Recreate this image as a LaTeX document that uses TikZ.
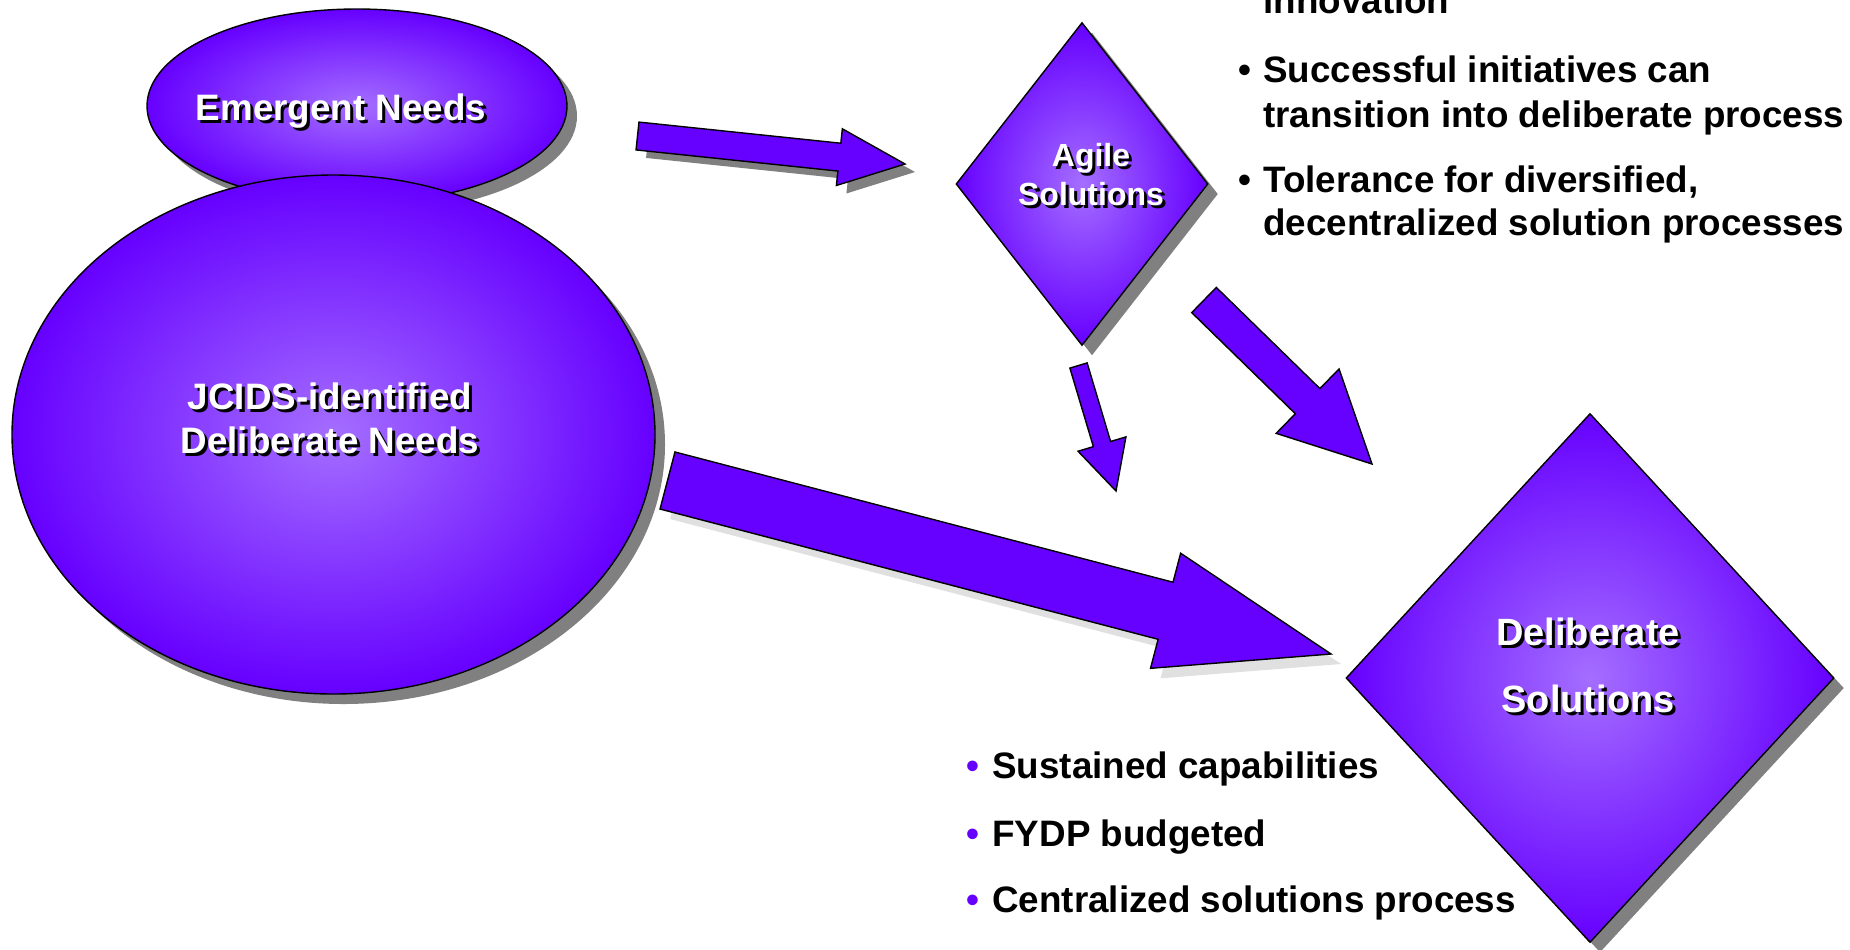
\documentclass[tikz,border=0pt]{standalone}
\usepackage{fontspec}
\setmainfont{Liberation Sans}
\usepackage{xcolor}
\usepackage{tikz}
\usetikzlibrary{positioning,shapes.geometric,shadows,calc}

\definecolor{solviolet}{HTML}{6600FF}
\definecolor{sollight}{HTML}{A46EFF}

\tikzset{
  needshape/.style={draw=black, line width=0.7pt, shading=radial, inner color=sollight,
    outer color=solviolet, inner sep=0pt,
    drop shadow={shadow xshift=5pt, shadow yshift=-5pt, fill=black!50, opacity=1}},
  needoval/.style={needshape, ellipse},
  soldiamond/.style={needshape, diamond},
  lbl/.style={font=\bfseries\fontsize{18.4}{22}\selectfont, text=white, anchor=base, inner sep=0pt},
  lblback/.style={lbl, text=black},
  itemtext/.style={font=\bfseries\fontsize{18.4}{22}\selectfont, anchor=base west, inner sep=0pt},
  itembullet/.style={font=\bfseries\fontsize{18.4}{22}\selectfont, anchor=base, inner sep=0pt},
  arrowbody/.style={fill=solviolet, draw=black, line width=0.7pt}
}

% white label with a black shadow behind it
\newcommand{\shadowtext}[4][]{%
  \node[lblback,#1] (#2s) at ($(#3)+(3,3)$) {#4};
  \node[lbl,#1] (#2) at (#3) {#4};}

% block arrow: from, to, half shaft, half head, head length
\newcommand{\blockarrow}[6][]{%
  \coordinate (#2n) at ($(#3)!#6!(#2)$);
  \filldraw[arrowbody,#1] ($(#2)!#4!90:(#3)$) -- ($(#2n)!#4!90:(#3)$) -- ($(#2n)!#5!90:(#3)$)
    -- (#3) -- ($(#2n)!#5!-90:(#3)$) -- ($(#2n)!#4!-90:(#3)$) -- ($(#2)!#4!-90:(#3)$) -- cycle;}

\begin{document}
\begin{tikzpicture}[x=0.5pt, y=-0.5pt]
    \useasboundingbox (0,0) rectangle (1850,949);
    \fill[white] (0,0) rectangle (1850,949);

    % needs and solutions
    \node[needoval, minimum width=210pt, minimum height=97pt] (emer) at (357,106) {};
    \node[needoval, minimum width=321.5pt, minimum height=259.5pt] (jcids) at (333.5,434.5) {};
    \node[soldiamond, minimum width=126pt, minimum height=161.5pt] (agile) at (1082,184) {};
    \node[soldiamond, minimum width=244pt, minimum height=264.5pt] (delib) at (1590,678) {};

    % arrows
    \coordinate (a1s) at (637.5,136);  \coordinate (a1e) at (905,164);
    \coordinate (a2s) at (1078.5,365.5); \coordinate (a2e) at (1116,491);
    \coordinate (a3s) at (1204,300);   \coordinate (a3e) at (1372,464);
    \coordinate (a4s) at (667.5,480.5); \coordinate (a4e) at (1331,654);
    \blockarrow[drop shadow={shadow xshift=5pt, shadow yshift=-4pt, fill=black!50, opacity=1}]{a1s}{a1e}{7pt}{14.25pt}{33pt}
    \blockarrow{a2s}{a2e}{4.5pt}{12.5pt}{24.5pt}
    \blockarrow{a3s}{a3e}{8.8pt}{22.5pt}{45pt}
    \blockarrow[drop shadow={shadow xshift=5pt, shadow yshift=-5pt, fill=black!12, opacity=1}]{a4s}{a4e}{14.75pt}{29.75pt}{85.5pt}

    % labels
    \shadowtext{emertxt}{341,120}{Emergent Needs}
    \shadowtext{jcidstxta}{330,409}{JCIDS-identified}
    \shadowtext{jcidstxtb}{330,453}{Deliberate Needs}
    \shadowtext[font=\bfseries\fontsize{16}{19}\selectfont]{agiletxta}{1091,166}{Agile}
    \shadowtext[font=\bfseries\fontsize{16}{19}\selectfont]{agiletxtb}{1091,205}{Solutions}
    \shadowtext[font=\bfseries\fontsize{19}{23}\selectfont]{delibtxta}{1588,645}{Deliberate}
    \shadowtext[font=\bfseries\fontsize{19}{23}\selectfont]{delibtxtb}{1588,712}{Solutions}

    % agile notes
    \node[itemtext] (agn0) at (1263,13) {innovation};
    \node[itembullet] (agb1) at (1245,82) {•};
    \node[itemtext] (agn1) at (1263,82) {Successful initiatives can};
    \node[itemtext] (agn1b) at (1263,127) {transition into deliberate process};
    \node[itembullet] (agb2) at (1245,192) {•};
    \node[itemtext] (agn2) at (1263,192) {Tolerance for diversified,};
    \node[itemtext] (agn2b) at (1263,235) {decentralized solution processes};

    % deliberate notes
    \node[itembullet, text=solviolet] (dlb1) at (973,778) {•};
    \node[itemtext] (dln1) at (992,778) {Sustained capabilities};
    \node[itembullet, text=solviolet] (dlb2) at (973,846) {•};
    \node[itemtext] (dln2) at (992,846) {FYDP budgeted};
    \node[itembullet, text=solviolet] (dlb3) at (973,912) {•};
    \node[itemtext] (dln3) at (992,912) {Centralized solutions process};
\end{tikzpicture}
\end{document}
